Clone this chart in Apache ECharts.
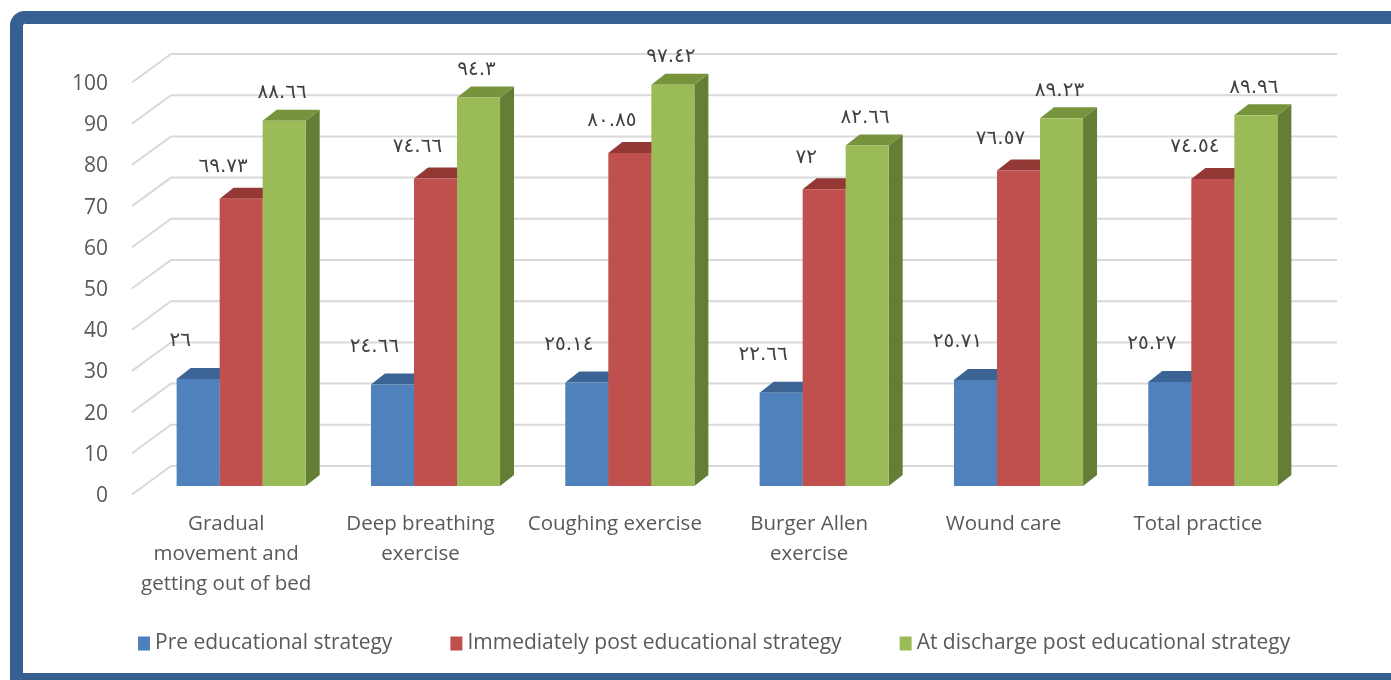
<!DOCTYPE html>
<html>
<head>
<meta charset="utf-8">
<script src="https://cdn.jsdelivr.net/npm/echarts@6/dist/echarts.min.js"></script>
<style>
  html, body { margin: 0; padding: 0; background: #ffffff; }
  #chart { width: 1391px; height: 680px; }
</style>
</head>
<body>
<div id="chart"></div>
<script>
// Practice scores (%) before and after the educational strategy
const categories = [
  'Gradual\nmovement and\ngetting out of bed',
  'Deep breathing\nexercise',
  'Coughing exercise',
  'Burger Allen\nexercise',
  'Wound care',
  'Total practice'
];
const seriesNames = [
  'Pre educational strategy',
  'Immediately post educational strategy',
  'At discharge post educational strategy'
];
const preValues = [26, 24.66, 25.14, 22.66, 25.71, 25.27];
const immediateValues = [69.73, 74.66, 80.85, 72, 76.57, 74.54];
const dischargeValues = [88.66, 94.3, 97.42, 82.66, 89.23, 89.96];
const yTicks = [0, 10, 20, 30, 40, 50, 60, 70, 80, 90, 100];

// Value labels are written with Arabic-Indic digits
const ARABIC_DIGITS = '٠١٢٣٤٥٦٧٨٩';
function toArabicDigits(v) {
  return String(v).replace(/\d/g, d => ARABIC_DIGITS[+d]);
}

// Depth of the pseudo-3D boxes and of the back wall
const DEPTH_X = 14, DEPTH_Y = -11;
const WALL_BACK_X = 27, WALL_BACK_Y = -20;
const WALL_FRONT_X = -12, WALL_FRONT_Y = 8.5;

const palette = [
  { front: '#4F81BD', top: '#3B6494', side: '#385D8A', lx: -18, ly: -38 },
  { front: '#C0504D', top: '#933835', side: '#8C3836', lx: -18, ly: -32 },
  { front: '#9BBB59', top: '#77933C', side: '#657E36', lx: -2,  ly: -28 }
];

function boxRenderer(sIdx) {
  const c = palette[sIdx];
  return function (params, api) {
    const cat = api.value(0);
    const v = api.value(1);
    const top = api.coord([cat, v]);
    const base = api.coord([cat, 0]);
    const band = api.size([1, 0])[0];
    const bw = band * 0.2214;
    const xl = top[0] - 1.5 * bw + sIdx * bw;
    const xr = xl + bw;
    const yt = top[1], yb = base[1];
    return {
      type: 'group',
      children: [
        {
          type: 'polygon',
          shape: { points: [[xr, yt], [xr + DEPTH_X, yt + DEPTH_Y], [xr + DEPTH_X, yb + DEPTH_Y], [xr, yb]] },
          style: { fill: c.side }
        },
        {
          type: 'polygon',
          shape: { points: [[xl, yt], [xl + DEPTH_X, yt + DEPTH_Y], [xr + DEPTH_X, yt + DEPTH_Y], [xr, yt]] },
          style: { fill: c.top }
        },
        {
          type: 'rect',
          shape: { x: xl, y: yt, width: bw, height: yb - yt },
          style: { fill: c.front }
        },
        {
          type: 'text',
          z2: 100,
          style: {
            text: toArabicDigits(v),
            x: (xl + xr) / 2 + c.lx,
            y: yt + c.ly,
            align: 'center',
            verticalAlign: 'middle',
            fontSize: 20,
            fontFamily: 'DejaVu Sans',
            fill: '#404040'
          }
        }
      ]
    };
  };
}

function wallRenderer(params, api) {
  const cs = params.coordSys;
  const y = api.coord([0, api.value(1)])[1];
  const x0 = cs.x, x1 = cs.x + cs.width;
  return {
    type: 'polyline',
    shape: {
      points: [
        [x0 + WALL_FRONT_X, y + WALL_FRONT_Y],
        [x0 + WALL_BACK_X, y + WALL_BACK_Y],
        [x1 + WALL_BACK_X, y + WALL_BACK_Y]
      ]
    },
    style: { stroke: '#D9D9D9', lineWidth: 2, fill: null }
  };
}

const seriesValues = [preValues, immediateValues, dischargeValues];

const chart = echarts.init(document.getElementById('chart'), null, { renderer: 'canvas' });
chart.setOption({
  animation: false,
  backgroundColor: '#ffffff',
  graphic: [{
    type: 'rect',
    silent: true,
    z: 100,
    shape: { x: 16.5, y: 17.5, width: 1420, height: 662, r: [8, 8, 0, 0] },
    style: { fill: null, stroke: '#376092', lineWidth: 13 }
  }],
  grid: { left: 144, right: 81, top: 74, bottom: 194, containLabel: false },
  legend: {
    data: seriesNames,
    left: 133,
    top: 628,
    icon: 'rect',
    itemWidth: 12,
    itemHeight: 14,
    itemGap: 58,
    textStyle: { color: '#595959', fontSize: 21, fontFamily: 'Open Sans' }
  },
  xAxis: {
    type: 'category',
    data: categories,
    axisLine: { show: false },
    axisTick: { show: false },
    axisLabel: {
      interval: 0,
      margin: 23,
      color: '#595959',
      fontSize: 20.5,
      lineHeight: 30,
      fontFamily: 'Open Sans',
      padding: [0, 30, 0, 0]
    }
  },
  yAxis: {
    type: 'value',
    min: 0,
    max: 100,
    interval: 10,
    axisLine: { show: false },
    axisTick: { show: false },
    splitLine: { show: false },
    axisLabel: {
      margin: 36,
      color: '#595959',
      fontSize: 21,
      lineHeight: 20,
      verticalAlign: 'top',
      fontFamily: 'Open Sans'
    }
  },
  series: [
    {
      type: 'custom',
      silent: true,
      renderItem: wallRenderer,
      encode: { x: 0, y: 1 },
      data: yTicks.map(t => [0, t]),
      z: 1
    }
  ].concat(seriesValues.map((vals, s) => ({
    name: seriesNames[s],
    type: 'custom',
    renderItem: boxRenderer(s),
    encode: { x: 0, y: 1 },
    itemStyle: { color: palette[s].front },
    data: vals.map((v, i) => [i, v]),
    z: 2
  })))
});
</script>
</body>
</html>
